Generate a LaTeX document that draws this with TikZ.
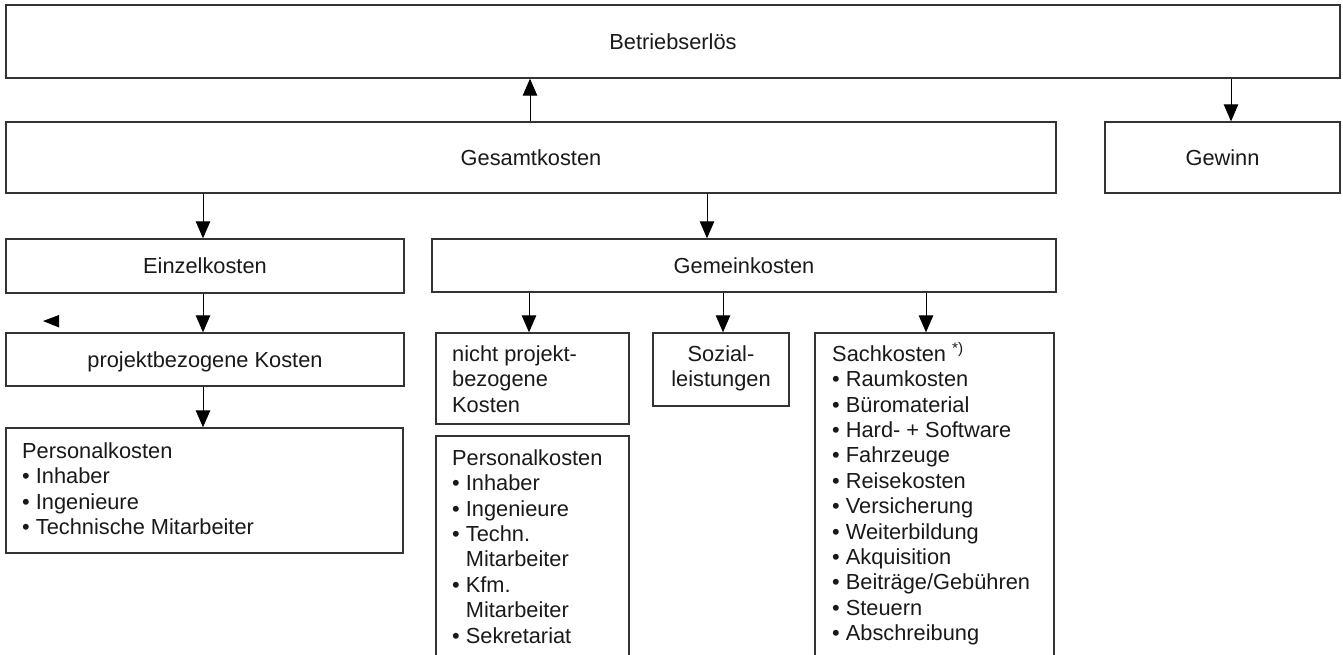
\documentclass[tikz,border=0pt]{standalone}
\usepackage{fontspec}
\setmainfont{Liberation Sans}
\usetikzlibrary{arrows.meta}
\newcommand\fs{\rule{0pt}{19pt}}
\newcommand\bl{\textbullet\ }
\newcommand\ind{\hphantom{\textbullet\ }}
\begin{document}
\begin{tikzpicture}[x=1pt,y=-1pt,
  box/.style={draw=black!80, line width=1.4pt, inner sep=0pt, text height=15.6pt, text depth=0pt,
    font=\fontsize{21.8pt}{25.4pt}\selectfont, text=black!90},
  txt/.style={inner sep=0pt, align=left, font=\fontsize{21.8pt}{25.4pt}\selectfont, text=black!90},
  arr/.style={-{Triangle[length=17pt,width=14.5pt]}, line width=1pt, black}]
\useasboundingbox (0,0) rectangle (1343,654);
\clip (0,0) rectangle (1343,654);
% boxes
\node[box, minimum width=1334pt, minimum height=73pt] (erl) at (673,41.5) {Betriebserlös};
\node[box, minimum width=1050pt, minimum height=71pt] (ges) at (531,157.5) {Gesamtkosten};
\node[box, minimum width=235pt, minimum height=71pt] (gew) at (1222.5,157.5) {Gewinn};
\node[box, minimum width=398pt, minimum height=54pt] (einz) at (205,266) {Einzelkosten};
\node[box, minimum width=624pt, minimum height=53pt] (gem) at (744,265.5) {Gemeinkosten};
\node[box, minimum width=398pt, minimum height=53pt] (proj) at (205,359.5) {projektbezogene Kosten};
\node[box, minimum width=397pt, minimum height=125pt] (pers1) at (204.5,490.5) {};
\node[box, minimum width=193pt, minimum height=91pt] (nproj) at (532.5,378.5) {};
\node[box, minimum width=193pt, minimum height=234pt] (pers2) at (532.5,553) {};
\node[box, minimum width=136pt, minimum height=73pt] (soz) at (721,369.5) {};
\node[box, minimum width=239pt, minimum height=337pt] (sach) at (934.5,501.5) {};
% texts in boxes
\node[txt, anchor=north west] (pers1T) at (22,439) {\fs Personalkosten\\ \bl Inhaber\\ \bl Ingenieure\\ \bl Technische Mitarbeiter};
\node[txt, anchor=north west] (nprojT) at (452,342) {\fs nicht projekt-\\ bezogene\\ Kosten};
\node[txt, anchor=north west] (pers2T) at (452,446) {\fs Personalkosten\\ \bl Inhaber\\ \bl Ingenieure\\ \bl Techn.\\ \ind Mitarbeiter\\ \bl Kfm.\\ \ind Mitarbeiter\\ \bl Sekretariat};
\node[txt, anchor=north, align=center] (sozT) at (721,342) {\fs Sozial-\\ leistungen};
\node[txt, anchor=north west] (sachT) at (832,342) {\fs Sachkosten \textsuperscript{*)}\\ \bl Raumkosten\\ \bl Büromaterial\\ \bl Hard- + Software\\ \bl Fahrzeuge\\ \bl Reisekosten\\ \bl Versicherung\\ \bl Weiterbildung\\ \bl Akquisition\\ \bl Beiträge/Gebühren\\ \bl Steuern\\ \bl Abschreibung};
% connectors
\draw[arr] ([xshift=-1pt]ges.north) -- ([xshift=-143pt]erl.south);
\draw[arr] ([xshift=558pt]erl.south) -- ([xshift=8.5pt]gew.north);
\draw[arr] ([xshift=-328pt]ges.south) -- ([xshift=-2pt]einz.north);
\draw[arr] ([xshift=176pt]ges.south) -- ([xshift=-37pt]gem.north);
\draw[arr] ([xshift=-2pt]einz.south) -- ([xshift=-2pt]proj.north);
\draw[arr] ([xshift=-2pt]proj.south) -- ([xshift=-1.5pt]pers1.north);
\draw[arr] ([xshift=-215pt]gem.south) -- ([xshift=-3.5pt]nproj.north);
\draw[arr] ([xshift=-21pt]gem.south) -- ([xshift=2pt]soz.north);
\draw[arr] ([xshift=182pt]gem.south) -- ([xshift=-8.5pt]sach.north);
% stray arrowhead
\fill[black] (43,321) -- (59,315) -- (59,327.5) -- cycle;
\end{tikzpicture}
\end{document}
